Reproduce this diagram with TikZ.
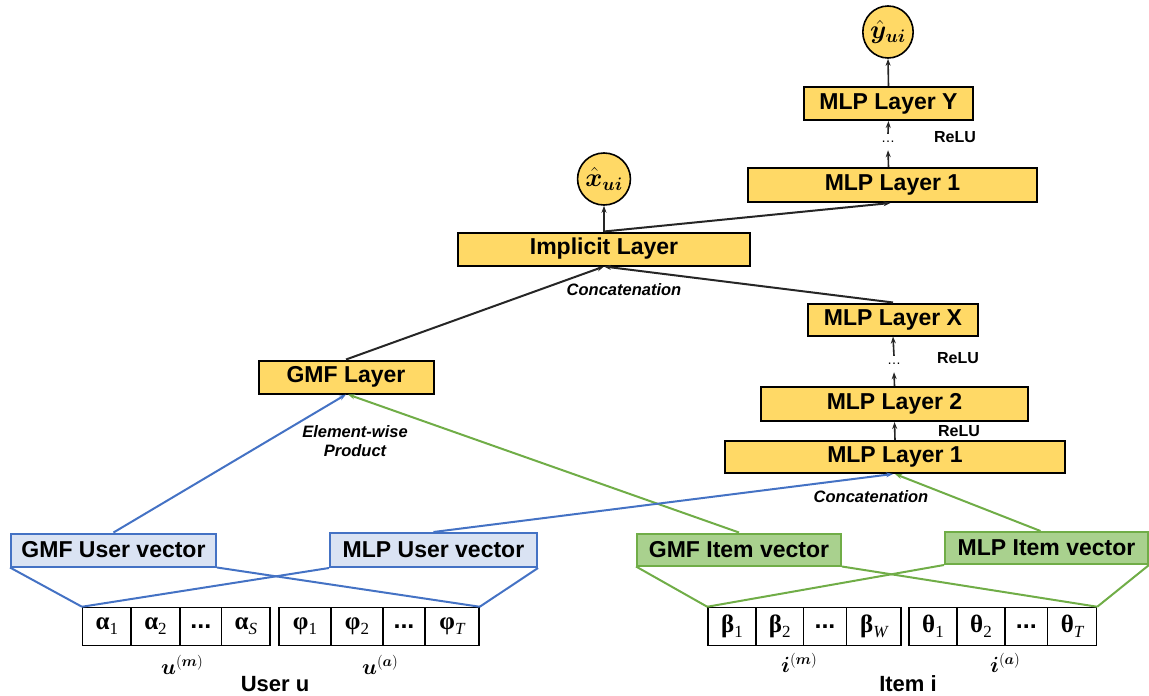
\RequirePackage{fix-cm}
\documentclass[tikz,border=0pt]{standalone}
\usepackage{fontspec}
\usepackage{bm}
\setmainfont{Liberation Sans}
\newfontfamily\grkfont{Liberation Serif}
\usetikzlibrary{arrows.meta,shapes.geometric}
\definecolor{layery}{HTML}{FFD966}
\definecolor{blueline}{HTML}{4472C4}
\definecolor{bluefill}{HTML}{DAE3F3}
\definecolor{greenline}{HTML}{70AD47}
\definecolor{greenfill}{HTML}{A9D18E}
\definecolor{darkline}{HTML}{262626}
\tikzset{
 layer/.style={draw=black, fill=layery, line width=2pt, inner sep=0pt, font=\fontsize{23}{27}\selectfont\bfseries},
 outc/.style={ellipse, draw=black, fill=layery, line width=1.6pt, minimum width=50pt, minimum height=52pt, inner sep=0pt, font=\fontsize{26}{30}\selectfont},
 uvec/.style={draw=blueline, fill=bluefill, line width=2pt, inner sep=0pt, font=\fontsize{23}{27}\selectfont\bfseries},
 ivec/.style={draw=greenline, fill=greenfill, line width=2pt, inner sep=0pt, font=\fontsize{23}{27}\selectfont\bfseries},
 cell/.style={draw=black, fill=white, line width=1.5pt, minimum height=38pt, inner sep=0pt, font=\fontsize{25}{28}\selectfont},
 lab/.style={font=\fontsize{16.5}{19}\selectfont\bfseries\itshape, align=center, inner sep=0pt},
 relu/.style={font=\fontsize{16}{19}\selectfont\bfseries, inner sep=0pt},
 dotn/.style={inner sep=0pt, minimum width=12pt, minimum height=16pt, font=\fontsize{14}{16}\selectfont},
 mlab/.style={inner sep=0pt, font=\fontsize{22}{26}\selectfont},
 biglab/.style={inner sep=0pt, font=\fontsize{22}{26}\selectfont\bfseries},
 arr/.style={-{Stealth[length=7pt,width=5pt]}, line width=1.6pt, draw=darkline},
 barr/.style={-{Stealth[length=7pt,width=5pt]}, line width=2pt, draw=blueline},
 garr/.style={-{Stealth[length=7pt,width=5pt]}, line width=2pt, draw=greenline},
 bline/.style={line width=2pt, draw=blueline},
 gline/.style={line width=2pt, draw=greenline},
 kline/.style={-{Stealth[length=7pt,width=5pt]}, line width=2pt, draw=darkline},
}
\newcommand{\gk}[2]{{\grkfont\bfseries #1}\raisebox{-5pt}{\fontsize{17}{19}\selectfont\grkfont #2}}
\newcommand{\supl}[2]{$\bm{#1}$\raisebox{8pt}{\fontsize{15}{17}\selectfont$(\bm{#2})$}}
\begin{document}
\begin{tikzpicture}[x=1pt,y=-1pt]
\useasboundingbox (0,0) rectangle (1149,696);
% top part
\node[outc] (yhat) at (888,32) {$\bm{\hat{y}}_{\bm{ui}}$};
\node[layer, minimum width=169pt, minimum height=33pt] (mlpY) at (888.5,103.5) {MLP Layer Y};
\node[dotn] (dA) at (888,142) {\ldots};
\node[relu] (reluA) at (955,137) {ReLU};
\node[layer, minimum width=289pt, minimum height=34pt] (mlpT) at (892.5,185) {MLP Layer 1};
\node[outc] (xhat) at (604,179) {$\bm{\hat{x}}_{\bm{ui}}$};
\node[layer, minimum width=292pt, minimum height=33pt] (impl) at (604,249) {Implicit Layer};
\node[lab] (concA) at (624,290) {Concatenation};
\node[layer, minimum width=170pt, minimum height=32pt] (mlpX) at (893,319.5) {MLP Layer X};
\node[dotn] (dB) at (894,364) {\ldots};
\node[relu] (reluB) at (958,358) {ReLU};
\node[layer, minimum width=175pt, minimum height=33pt] (gmfl) at (346,377) {GMF Layer};
\node[layer, minimum width=267pt, minimum height=34pt] (mlp2) at (894.5,404) {MLP Layer 2};
\node[relu] (reluC) at (959,431) {ReLU};
\node[layer, minimum width=340pt, minimum height=32pt] (mlp1) at (895,457) {MLP Layer 1};
\node[lab] (ewp) at (355,441) {Element-wise\\Product};
\node[lab] (concB) at (871,497) {Concatenation};
% vectors
\node[uvec, minimum width=205pt, minimum height=33pt] (gmfu) at (113.5,550) {GMF User vector};
\node[uvec, minimum width=207pt, minimum height=34pt] (mlpu) at (433.5,550) {MLP User vector};
\node[ivec, minimum width=204pt, minimum height=32pt] (gmfi) at (739,549.5) {GMF Item vector};
\node[ivec, minimum width=203pt, minimum height=32pt] (mlpi) at (1046.5,548) {MLP Item vector};
% cells
\node[cell, minimum width=48.3pt] (a1) at (106.85,626.5) {\gk{α}{1}};
\node[cell, minimum width=49pt] (a2) at (155.5,626.5) {\gk{α}{2}};
\node[cell, minimum width=41.7pt] (a3) at (200.85,626.5) {\textbf{...}};
\node[cell, minimum width=48.3pt] (a4) at (245.85,626.5) {\gk{α}{\itshape S}};
\node[cell, minimum width=52pt] (p1) at (305,626.5) {\gk{φ}{1}};
\node[cell, minimum width=52pt] (p2) at (357,626.5) {\gk{φ}{2}};
\node[cell, minimum width=42pt] (p3) at (404,626.5) {\textbf{...}};
\node[cell, minimum width=54pt] (p4) at (452,626.5) {\gk{φ}{\itshape T}};
\node[cell, minimum width=48pt] (b1) at (732,626.5) {\gk{β}{1}};
\node[cell, minimum width=47.5pt] (b2) at (779.75,626.5) {\gk{β}{2}};
\node[cell, minimum width=43pt] (b3) at (825,626.5) {\textbf{...}};
\node[cell, minimum width=54.5pt] (b4) at (873.75,626.5) {\gk{β}{\itshape W}};
\node[cell, minimum width=48pt] (t1) at (933,626.5) {\gk{θ}{1}};
\node[cell, minimum width=48pt] (t2) at (981,626.5) {\gk{θ}{2}};
\node[cell, minimum width=42.6pt] (t3) at (1026.3,626.5) {\textbf{...}};
\node[cell, minimum width=49pt] (t4) at (1072,626.5) {\gk{θ}{\itshape T}};
% bottom labels
\node[mlab] (um) at (182,665) {\supl{u}{m}};
\node[mlab] (ua) at (380,665) {\supl{u}{a}};
\node[mlab] (im) at (799,663) {\supl{i}{m}};
\node[mlab] (ia) at (1005,663) {\supl{i}{a}};
\node[biglab] (useru) at (275,684) {User u};
\node[biglab] (itemi) at (908,684) {Item i};
% funnel lines
\draw[bline] (gmfu.south west) -- (a1.north west);
\draw[bline] (gmfu.south east) -- (p4.north east);
\draw[bline] (mlpu.south west) -- (a1.north west);
\draw[bline] (mlpu.south east) -- (p4.north east);
\draw[gline] (gmfi.south west) -- (b1.north west);
\draw[gline] (gmfi.south east) -- (t4.north east);
\draw[gline] (mlpi.south west) -- (b1.north west);
\draw[gline] (mlpi.south east) -- (t4.north east);
% colored arrows
\draw[barr] (gmfu.north) -- (gmfl.south);
\draw[garr] (gmfi.north) -- ([xshift=2pt]gmfl.south);
\draw[barr] (mlpu.north) -- ([xshift=-2pt]mlp1.south);
\draw[garr] ([xshift=-6pt]mlpi.north) -- (mlp1.south);
% black arrows
\draw[kline] (gmfl.north) -- (impl.south);
\draw[kline] (mlpX.north) -- (impl.south);
\draw[kline] (impl.north) -- (xhat.south);
\draw[kline] (impl.north) -- ([xshift=-2pt]mlpT.south);
\draw[arr] ([xshift=-4pt]mlpT.north) -- (dA.south);
\draw[arr] (dA.north) -- (mlpY.south);
\draw[arr] (mlpY.north) -- (yhat.south);
\draw[arr] (mlp1.north) -- (mlp2.south);
\draw[arr] (mlp2.north) -- (dB.south);
\draw[arr] (dB.north) -- (mlpX.south);
\end{tikzpicture}
\end{document}
